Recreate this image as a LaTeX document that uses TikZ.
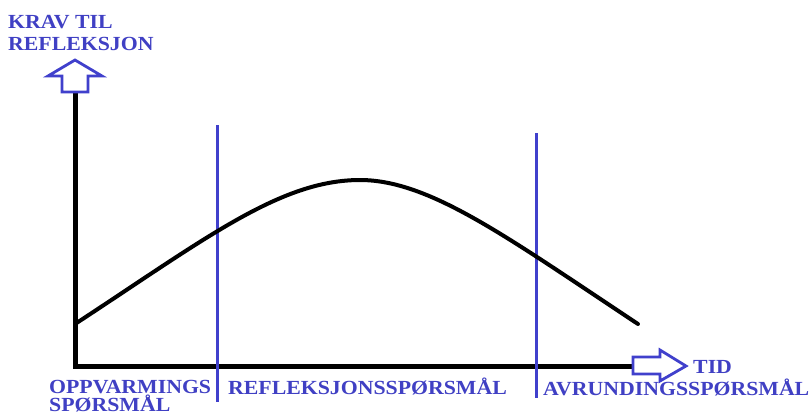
\documentclass[tikz,border=0pt]{standalone}
\usepackage{fontspec}
\setmainfont{Liberation Serif}
\newfontfamily\lblfont[FakeStretch=1.09]{Liberation Serif}
\begin{document}
\begin{tikzpicture}[x=1pt,y=-1pt,
  lbl/.style={inner sep=0pt, text=txtblue, font=\lblfont\bfseries\fontsize{20}{22}\selectfont, anchor=base west},
  axisline/.style={line width=5pt, black, line join=miter},
  curveline/.style={line width=4pt, black, line cap=round},
  divider/.style={line width=3pt, lineblue},
  blockarrow/.style={line width=2.8pt, lineblue, fill=white, line join=miter}]
\definecolor{lineblue}{RGB}{64,64,204}
\definecolor{txtblue}{RGB}{64,64,196}
\useasboundingbox (0,0) rectangle (810,416);
\fill[white] (0,0) rectangle (810,416);
% axes
\coordinate (ytop) at (75,92);
\coordinate (origin) at (75,366);
\coordinate (xend) at (633,366);
\draw[axisline] (ytop) -- (origin) -- (xend);
% block arrows
\draw[blockarrow] (62,92) -- (62,76) -- (48,76) -- (75,60) -- (102,76) -- (88,76) -- (88,92) -- cycle;
\draw[blockarrow] (633,357) -- (660,357) -- (660,350) -- (686,366) -- (660,381) -- (660,374) -- (633,374) -- cycle;
% dividers
\draw[divider] (217,125) -- (217,402);
\draw[divider] (536,133) -- (536,398);
% curve
\coordinate (cstart) at (75,324);
\coordinate (cpeak) at (360,180);
\coordinate (cend) at (638,324);
\draw[curveline] (cstart) .. controls (205,239) and (280,180) .. (cpeak)
  .. controls (430,180) and (508,238) .. (cend);
% labels
\node[lbl] (ylab1) at (8,28) {KRAV TIL};
\node[lbl] (ylab2) at (8,50) {REFLEKSJON};
\node[lbl] (xlab) at (693,373) {TID};
\node[lbl] (warm1) at (49,393) {OPPVARMINGS};
\node[lbl] (warm2) at (49,411) {SPØRSMÅL};
\node[lbl] (refl) at (228,394) {REFLEKSJONSSPØRSMÅL};
\node[lbl] (avr) at (543,395) {AVRUNDINGSSPØRSMÅL};
\end{tikzpicture}
\end{document}
